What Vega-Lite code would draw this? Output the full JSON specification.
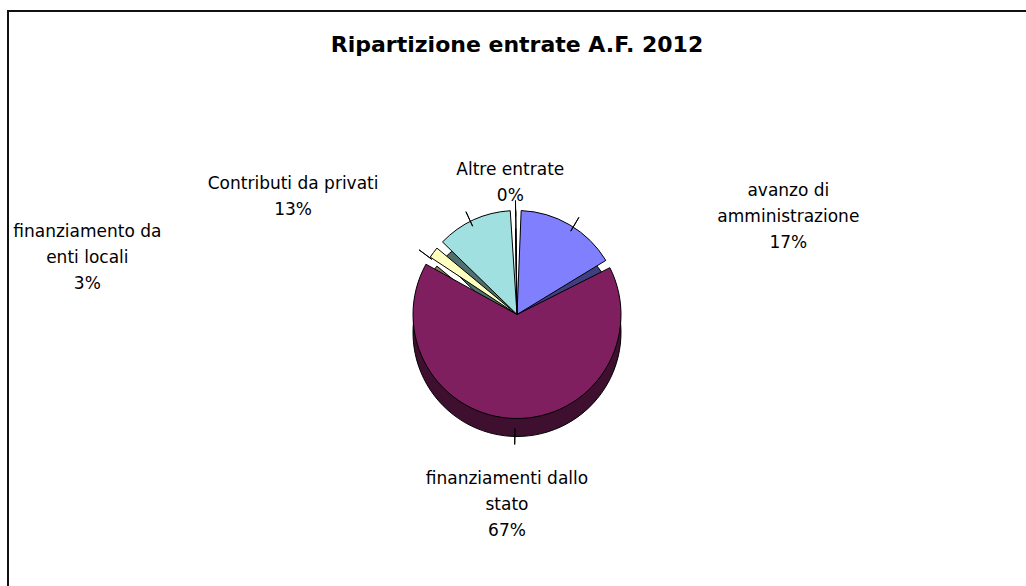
{
  "$schema": "https://vega.github.io/schema/vega-lite/v6.json",
  "width": 1018,
  "height": 575,
  "autosize": {"type": "none"},
  "padding": {"left": 8, "top": 11, "right": 0, "bottom": 0},
  "background": "#ffffff",
  "title": {
    "text": "Ripartizione entrate A.F. 2012",
    "font": "DejaVu Sans",
    "fontSize": 22,
    "fontWeight": "bold",
    "color": "#000000",
    "anchor": "middle",
    "baseline": "alphabetic",
    "offset": -64
  },
  "config": {
    "view": {"stroke": null}
  },
  "data": {
    "values": [
      {"category": "avanzo di amministrazione", "value": 17, "order": 1, "label": "avanzo di\namministrazione\n17%"},
      {"category": "finanziamenti dallo stato", "value": 67, "order": 2, "label": "finanziamenti dallo\nstato\n67%"},
      {"category": "finanziamento da enti locali", "value": 3, "order": 3, "label": "finanziamento da\nenti locali\n3%"},
      {"category": "Contributi da privati", "value": 13, "order": 4, "label": "Contributi da privati\n13%"},
      {"category": "Altre entrate", "value": 0.4, "order": 5, "label": "Altre entrate\n0%"}
    ]
  },
  "layer": [
    {
      "data": {"values": [{"frame": "chart area"}]},
      "mark": {"type": "rect", "filled": false, "color": "#111111", "strokeWidth": 2, "x": 0, "y": 0, "x2": {"expr": "width + 20"}, "y2": {"expr": "height + 20"}},
      "encoding": {}
    },
    {
      "mark": {"type": "arc", "radius": 104, "yOffset": 34, "stroke": "#000000", "strokeWidth": 1, "padAngle": 0.08},
      "encoding": {
        "theta": {"field": "value", "type": "quantitative", "stack": true},
        "order": {"field": "order", "type": "quantitative"},
        "color": {
          "field": "category", "type": "nominal", "legend": null,
          "scale": {
            "domain": ["avanzo di amministrazione", "finanziamenti dallo stato", "finanziamento da enti locali", "Contributi da privati", "Altre entrate"],
            "range": ["#404080", "#3f0f2f", "#808060", "#507070", "#ffffff"]
          }
        }
      }
    },
    {
      "mark": {"type": "arc", "radius": 104, "yOffset": 16, "stroke": "#000000", "strokeWidth": 1, "padAngle": 0.08},
      "encoding": {
        "theta": {"field": "value", "type": "quantitative", "stack": true},
        "order": {"field": "order", "type": "quantitative"},
        "color": {
          "field": "category", "type": "nominal", "legend": null,
          "scale": {
            "domain": ["avanzo di amministrazione", "finanziamenti dallo stato", "finanziamento da enti locali", "Contributi da privati", "Altre entrate"],
            "range": ["#8080ff", "#7f1f5f", "#ffffc0", "#a0e0e0", "#ffffff"]
          }
        }
      }
    },
    {
      "transform": [{"stack": "value", "groupby": [], "sort": [{"field": "order", "order": "ascending"}], "as": ["s0", "s1"]}],
      "mark": {
        "type": "arc",
        "theta": {"expr": "scale('theta', (datum.s0 + datum.s1) / 2)"},
        "theta2": {"expr": "scale('theta', (datum.s0 + datum.s1) / 2)"},
        "radius": 122,
        "radius2": 106,
        "yOffset": 24,
        "stroke": "#000000",
        "strokeWidth": 1,
        "fill": null
      },
      "encoding": {}
    },
    {
      "transform": [{"stack": "value", "groupby": [], "sort": [{"field": "order", "order": "ascending"}], "as": ["s0", "s1"]}],
      "mark": {
        "type": "text",
        "radius": 155,
        "yOffset": 26,
        "font": "DejaVu Sans",
        "fontSize": 17,
        "lineHeight": 26,
        "lineBreak": "\n",
        "align": "center",
        "baseline": "middle",
        "color": "#000000",
        "dx": {"expr": "380 * sin(scale('theta', (datum.s0 + datum.s1) / 2))"}
      },
      "encoding": {
        "theta": {"field": "value", "type": "quantitative", "stack": true},
        "order": {"field": "order", "type": "quantitative"},
        "text": {"field": "label", "type": "nominal"}
      }
    }
  ],
  "resolve": {"scale": {"color": "independent"}}
}
